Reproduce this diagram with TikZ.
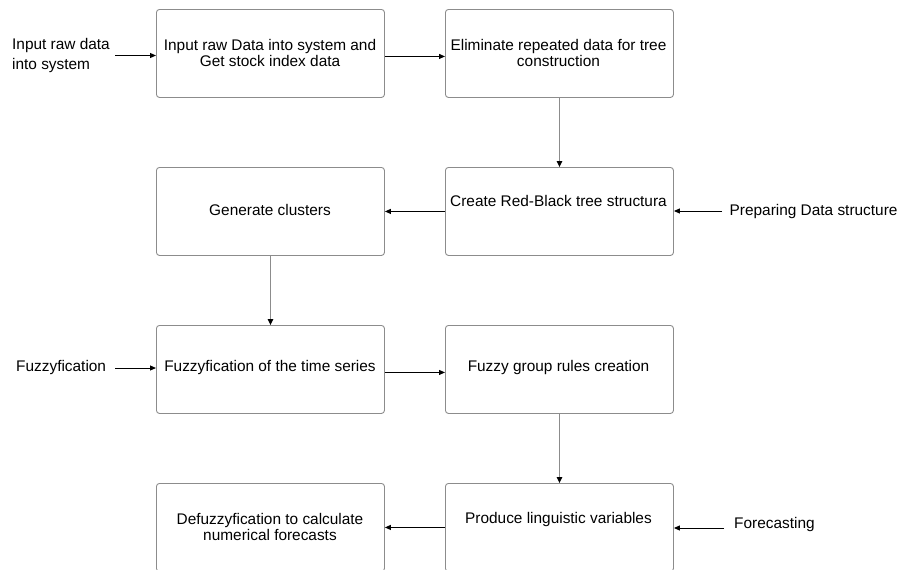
\documentclass[tikz,border=0pt]{standalone}
\usepackage{fontspec}
\setmainfont{Liberation Sans}
\usetikzlibrary{arrows.meta}
\begin{document}
\begin{tikzpicture}[x=1pt,y=-1pt,
  box/.style={draw=black!45,line width=0.9pt,rounded corners=3pt,minimum width=228pt,minimum height=88pt,inner sep=0pt,anchor=north west,fill=white},
  txt/.style={font=\fontsize{15.4}{16}\selectfont,align=center,inner sep=0pt},
  side/.style={font=\fontsize{15.4}{20}\selectfont,align=left,inner sep=0pt,anchor=west},
  harrow/.style={draw=black,line width=1pt,-{Triangle[length=6pt,width=5pt]}},
  varrow/.style={draw=black!45,line width=1.2pt,-{Triangle[length=6pt,width=5.5pt,black]}}]
\useasboundingbox (0,0) rectangle (906,570);
% boxes
\node[box] (b1) at (156,9) {};
\node[box] (b2) at (445,9) {};
\node[box] (b3) at (445,167) {};
\node[box] (b4) at (156,167) {};
\node[box] (b5) at (156,325) {};
\node[box] (b6) at (445,325) {};
\node[box] (b7) at (445,483) {};
\node[box] (b8) at (156,483) {};
% box texts
\node[txt] (t1) at (270,52.5) {Input raw Data into system and\\Get stock index data};
\node[txt] (t2) at (558.5,52.5) {Eliminate repeated data for tree\\construction};
\node[txt] (t3) at (558.5,201) {Create Red-Black tree structura};
\node[txt] (t4) at (270,210) {Generate clusters};
\node[txt] (t5) at (270,368) {Fuzzyfication of the time series};
\node[txt] (t6) at (558.5,368) {Fuzzy group rules creation};
\node[txt] (t7) at (558.5,520) {Produce linguistic variables};
\node[txt] (t8) at (270,527) {Defuzzyfication to calculate\\numerical forecasts};
% side labels
\node[side] (s1) at (12,55.5) {Input raw data\\into system};
\node[side] (s2) at (16,368) {Fuzzyfication};
\node[side] (s3) at (729.5,212) {Preparing Data structure};
\node[side] (s4) at (734,525) {Forecasting};
\coordinate (c1) at (115,55.5);
\coordinate (c2) at (115,368);
\coordinate (c3) at (722,211);
\coordinate (c4) at (724,528);
% connectors
\draw[harrow] (c1) -- (b1.west |- c1);
\draw[harrow] (c2) -- (b5.west |- c2);
\draw[harrow] (c3) -- (b3.east |- c3);
\draw[harrow] (c4) -- (b7.east |- c4);
\draw[harrow] ([yshift=-3pt]b1.east) -- ([yshift=-3pt]b2.west);
\draw[harrow] (b3.west) -- (b4.east);
\draw[harrow] ([yshift=-3pt]b5.east) -- ([yshift=-3pt]b6.west);
\draw[harrow] (b7.west) -- (b8.east);
\draw[varrow] (b2.south) -- (b3.north);
\draw[varrow] (b4.south) -- (b5.north);
\draw[varrow] (b6.south) -- (b7.north);
\end{tikzpicture}
\end{document}
